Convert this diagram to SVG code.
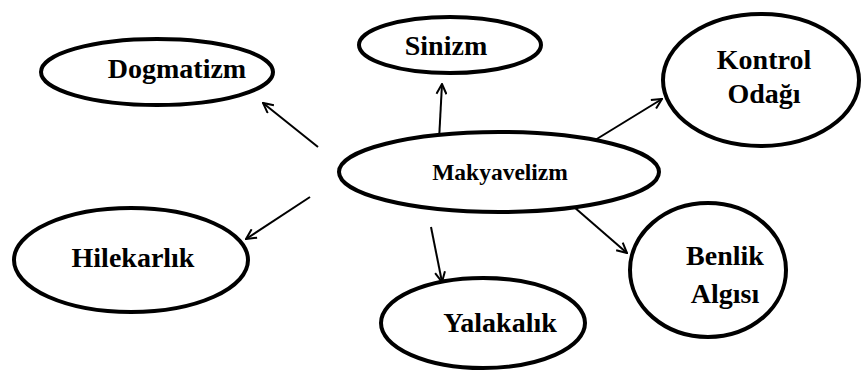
<svg xmlns="http://www.w3.org/2000/svg" width="861" height="374" viewBox="0 0 861 374">
  <style>
    .node ellipse { fill: #fff; stroke: #000; stroke-width: 4; }
    .label { font-family: "Liberation Serif", "Times New Roman", serif; font-weight: bold; font-size: 28px; text-anchor: middle; fill: #000; }
    .small { font-size: 23.5px; }
    .edge { stroke: #000; stroke-width: 2; fill: none; marker-end: url(#arrow); }
  </style>
  <defs>
    <marker id="arrow" viewBox="0 0 12 12" refX="11" refY="6" markerWidth="12" markerHeight="12" markerUnits="userSpaceOnUse" orient="auto">
      <path d="M1,1 L11,6 L1,11" fill="none" stroke="#000" stroke-width="2"/>
    </marker>
  </defs>

  <!-- arrows from the central node outwards -->
  <g id="connectors">
    <line class="edge" x1="318" y1="147" x2="263" y2="103"/>
    <line class="edge" x1="310" y1="197" x2="246" y2="239"/>
    <line class="edge" x1="439" y1="140" x2="442" y2="84"/>
    <line class="edge" x1="587" y1="145" x2="662" y2="99"/>
    <line class="edge" x1="574" y1="207" x2="627" y2="253"/>
    <line class="edge" x1="431" y1="227" x2="442" y2="282"/>
  </g>

  <g id="dogmatizm" class="node">
    <ellipse cx="157" cy="72" rx="116" ry="33"/>
    <text class="label" x="177" y="78">Dogmatizm</text>
  </g>
  <g id="sinizm" class="node">
    <ellipse cx="450" cy="45" rx="91" ry="28"/>
    <text class="label" x="446" y="55">Sinizm</text>
  </g>
  <g id="kontrol-odagi" class="node">
    <ellipse cx="761" cy="80" rx="98" ry="66"/>
    <text class="label" x="764" y="69">Kontrol</text>
    <text class="label" x="764" y="103">Odağı</text>
  </g>
  <g id="makyavelizm" class="node">
    <ellipse cx="499" cy="172" rx="160" ry="40"/>
    <text class="label small" x="500" y="180">Makyavelizm</text>
  </g>
  <g id="hilekarlik" class="node">
    <ellipse cx="131" cy="260" rx="117" ry="52"/>
    <text class="label" x="133" y="267">Hilekarlık</text>
  </g>
  <g id="benlik-algisi" class="node">
    <ellipse cx="708" cy="270" rx="78" ry="67"/>
    <text class="label" x="725" y="265">Benlik</text>
    <text class="label" x="725" y="303">Algısı</text>
  </g>
  <g id="yalakalik" class="node">
    <ellipse cx="483" cy="323" rx="102" ry="45"/>
    <text class="label" x="500" y="332">Yalakalık</text>
  </g>
</svg>
